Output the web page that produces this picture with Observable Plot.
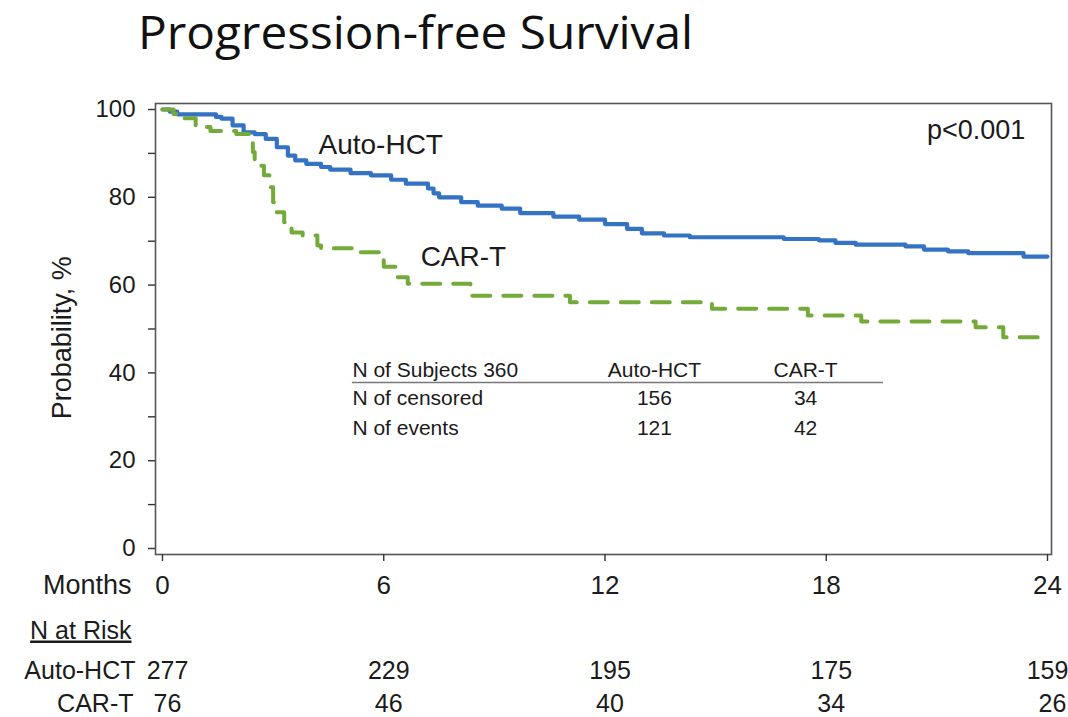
<!DOCTYPE html>
<html><head><meta charset="utf-8">
<script src="https://cdn.jsdelivr.net/npm/d3@7"></script>
<script src="https://cdn.jsdelivr.net/npm/@observablehq/plot@0.6"></script>
<style>
html,body{margin:0;padding:0;background:#fff;}
#title{position:relative;height:70px;overflow:visible;}
#title span{position:absolute;left:138px;top:0px;font-family:"Open Sans",sans-serif;font-size:46px;line-height:normal;color:#111;white-space:nowrap;transform-origin:0 0;}
#chart svg{display:block;}
</style>
</head><body>
<div id="title"><span>Progression-free Survival</span></div>
<div id="chart"></div>
<script>
// Kaplan–Meier step points (months, % progression-free)
const autoT = [0, 0.2, 0.4, 1.45, 1.6, 1.9, 2.2, 2.5, 2.8, 3.1, 3.4, 3.6, 3.9, 4.3, 4.55, 5.1, 5.65, 6.2, 6.6, 7.2, 7.35, 7.5, 8.1, 8.55, 9.2, 9.7, 10.6, 11.3, 12.0, 12.6, 13.0, 13.6, 14.3, 16.85, 17.8, 18.25, 18.8, 20.15, 20.65, 21.3, 21.85, 23.35, 24];
const autoS = [100, 99.5, 98.9, 98.3, 97.9, 96.4, 94.8, 94.4, 93.3, 91.4, 89.5, 88.4, 87.6, 86.9, 86.3, 85.5, 85.0, 84.0, 83.1, 82.0, 80.9, 80.0, 78.9, 78.1, 77.4, 76.4, 75.6, 74.9, 73.9, 72.8, 71.8, 71.3, 70.9, 70.5, 70.2, 69.6, 69.2, 68.8, 68.1, 67.7, 67.3, 66.5, 66.5];
const cartT = [0, 0.3, 0.6, 0.9, 1.3, 2.0, 2.4, 2.45, 2.5, 2.75, 2.9, 3.0, 3.05, 3.3, 3.5, 3.8, 4.2, 4.3, 5.3, 6.0, 6.35, 6.65, 8.35, 11.05, 14.9, 17.5, 18.95, 22.05, 22.8, 24];
const cartS = [100, 99, 98, 96, 95.1, 94.4, 92.6, 90.3, 87.2, 85, 82.3, 78.9, 76.6, 74.3, 72, 71.3, 69, 68.4, 67.5, 64.2, 61.8, 60.3, 57.6, 56.1, 54.6, 53.1, 51.7, 50.4, 48.1, 48.1];

const seriesNames = ["Auto-HCT", "CAR-T"];
const pValueText = "p<0.001";

const xTicks = [0, 6, 12, 18, 24];
const yTicks = [0, 20, 40, 60, 80, 100];
const yMinorTicks = [10, 30, 50, 70, 90];

const tableHeader = ["N of Subjects 360", "Auto-HCT", "CAR-T"];
const tableRows = ["N of censored", "N of events"];
const autoCounts = [156, 121];
const cartCounts = [34, 42];

const riskMonths = [0, 6, 12, 18, 24];
const riskAuto = [277, 229, 195, 175, 159];
const riskCart = [76, 46, 40, 34, 26];

const autoData = autoT.map((t, i) => ({t, s: autoS[i]}));
const cartData = cartT.map((t, i) => ({t, s: cartS[i]}));

const BLUE = "#3473c4";
const GREEN = "#74aa3a";
const INK = "#1b1b1b";
const rowY = [34.2, 27.3];

const plot = Plot.plot({
  width: 1068,
  height: 647,
  marginLeft: 155, marginRight: 17, marginTop: 33, marginBottom: 163,
  insetLeft: 7, insetRight: 4, insetTop: 6, insetBottom: 6,
  style: {fontFamily: "'Liberation Sans', Arial, sans-serif", background: "#fff", color: INK, overflow: "visible"},
  x: {domain: [0, 24]},
  y: {domain: [0, 100]},
  marks: [
    Plot.frame({stroke: "#555", strokeWidth: 1.6}),
    Plot.axisY({ticks: yTicks, tickSize: 7, tickPadding: 13, fontSize: 24, label: null, stroke: "#333", strokeWidth: 1.4}),
    Plot.axisY({ticks: yMinorTicks, tickSize: 7, tickFormat: () => "", label: null, stroke: "#333", strokeWidth: 1.4}),
    Plot.axisX({ticks: xTicks, tickSize: 7, tickPadding: 14, fontSize: 26, label: null, stroke: "#333", strokeWidth: 1.4}),
    Plot.line(autoData, {x: "t", y: "s", curve: "step-after", stroke: BLUE, strokeWidth: 4.2}),
    Plot.line(cartData, {x: "t", y: "s", curve: "step-after", stroke: GREEN, strokeWidth: 4, strokeDasharray: "18,13"}),
    // curve labels
    Plot.text([seriesNames[0]], {x: 4.23, y: 91.8, text: d => d, textAnchor: "start", fontSize: 28, fill: INK}),
    Plot.text([seriesNames[1]], {x: 7.0, y: 66.3, text: d => d, textAnchor: "start", fontSize: 28, fill: INK}),
    Plot.text([pValueText], {x: 23.4, y: 95.2, text: d => d, textAnchor: "end", fontSize: 27, fill: INK}),
    // inner summary table
    Plot.text([tableHeader[0]], {x: 5.15, y: 40.5, text: d => d, textAnchor: "start", fontSize: 21, fill: INK}),
    Plot.text([tableHeader[1]], {x: 13.34, y: 40.5, text: d => d, fontSize: 21, fill: INK}),
    Plot.text([tableHeader[2]], {x: 17.44, y: 40.5, text: d => d, fontSize: 21, fill: INK}),
    Plot.ruleY([37.8], {x1: 5.15, x2: 19.55, stroke: "#777", strokeWidth: 1.5}),
    Plot.text(tableRows, {x: 5.15, y: (d, i) => rowY[i], text: d => d, textAnchor: "start", fontSize: 21, fill: INK}),
    Plot.text(autoCounts, {x: 13.34, y: (d, i) => rowY[i], text: d => String(d), fontSize: 21, fill: INK}),
    Plot.text(cartCounts, {x: 17.44, y: (d, i) => rowY[i], text: d => String(d), fontSize: 21, fill: INK}),
    // y-axis label
    Plot.text(["Probability, %"], {y: () => 48, frameAnchor: "left", textAnchor: "middle", text: d => d, rotate: -90, dx: -93, fontSize: 27, fill: INK}),
    // x-axis label and number-at-risk table
    Plot.text(["Months"], {frameAnchor: "bottom-left", text: d => d, textAnchor: "end", dx: -24, dy: 39, fontSize: 27, fill: INK}),
    Plot.text(["N at Risk"], {frameAnchor: "bottom-left", text: d => d, textAnchor: "end", dx: -24, dy: 84, fontSize: 25, fill: INK}),
    Plot.text([seriesNames[0]], {frameAnchor: "bottom-left", text: d => d, textAnchor: "end", dx: -20, dy: 124, fontSize: 25, fill: INK}),
    Plot.text([seriesNames[1]], {frameAnchor: "bottom-left", text: d => d, textAnchor: "end", dx: -22, dy: 157, fontSize: 25, fill: INK}),
    Plot.text(riskMonths, {filter: (d, i) => i < 4, x: d => d, frameAnchor: "bottom", text: (d, i) => String(riskAuto[i]), dx: 5, dy: 124, fontSize: 25, fill: INK}),
    Plot.text(riskMonths, {filter: (d, i) => i === 4, x: d => d, frameAnchor: "bottom", text: (d, i) => String(riskAuto[i]), dx: 0, dy: 124, fontSize: 25, fill: INK}),
    Plot.text(riskMonths, {x: d => d, frameAnchor: "bottom", text: (d, i) => String(riskCart[i]), dx: 5, dy: 157, fontSize: 25, fill: INK})
  ]
});
document.getElementById("chart").appendChild(plot);
d3.select(plot).selectAll("text").filter(function() { return this.textContent === "N at Risk"; })
  .style("text-decoration", "underline");

// fit title width to the reference
const span = document.querySelector("#title span");
const w = span.getBoundingClientRect().width;
span.style.transform = `scaleX(${555 / w})`;
</script>
</body></html>
